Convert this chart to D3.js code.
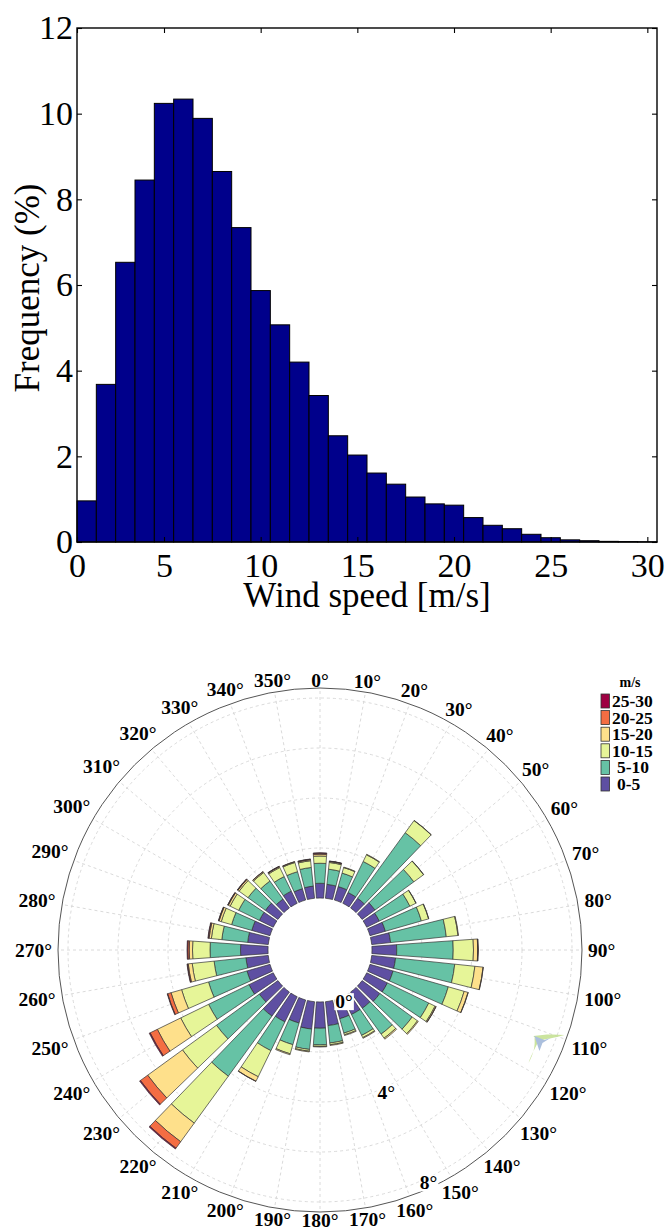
<!DOCTYPE html>
<html>
<head>
<meta charset="utf-8">
<script src="https://cdn.jsdelivr.net/npm/d3@7"></script>
<style>
  body { margin: 0; background: #fff; }
  svg { display: block; }
</style>
</head>
<body>
<svg id="chart" width="667" height="1230"></svg>
<script>
// ---------------- Histogram data: frequency (%) per 1 m/s bin (bin centres) ----------------
const binCenters = [1, 2, 3, 4, 5, 6, 7, 8, 9, 10, 11, 12, 13, 14, 15, 16, 17, 18, 19, 20,
                    21, 22, 23, 24, 25, 26, 27, 28, 29, 30];
const speedFreq = [0.96, 3.68, 6.53, 8.45, 10.24, 10.34, 9.89, 8.65, 7.34, 5.87,
                   5.07, 4.20, 3.42, 2.48, 2.03, 1.61, 1.35, 1.05, 0.89, 0.86,
                   0.57, 0.39, 0.31, 0.18, 0.10, 0.05, 0.03, 0.015, 0.01, 0.005];
const xTickValues = [0.5, 5, 10, 15, 20, 25, 30];
const xTickLabels = ["0", "5", "10", "15", "20", "25", "30"];
const yTicks = [0, 2, 4, 6, 8, 10, 12];

// ---------------- Wind rose data: frequency (%) per direction and speed class ----------------
const directions = [0, 10, 20, 30, 40, 50, 60, 70, 80, 90, 100, 110, 120, 130, 140, 150, 160, 170,
                    180, 190, 200, 210, 220, 230, 240, 250, 260, 270, 280, 290, 300, 310, 320, 330, 340, 350];
const speedClasses = ["0-5", "5-10", "10-15", "15-20", "20-25", "25-30"];
const rose0to5   = [0.59, 0.56, 0.56, 0.48, 0.48, 0.64, 0.56, 0.64, 0.76, 0.99, 0.96, 0.96, 0.92, 0.88, 0.80, 0.79, 0.78, 0.96,
                    1.05, 1.10, 0.96, 1.12, 1.19, 0.92, 1.08, 0.96, 0.90, 1.10, 0.83, 0.76, 0.62, 0.62, 0.44, 0.54, 0.47, 0.49];
const rose5to10  = [0.80, 0.61, 0.56, 1.38, 3.24, 1.92, 1.36, 1.50, 2.24, 2.26, 2.38, 2.30, 1.84, 1.60, 1.28, 0.93, 0.60, 0.70,
                    0.67, 0.82, 0.90, 1.28, 2.97, 2.12, 1.80, 1.60, 1.28, 1.22, 1.04, 0.84, 0.92, 0.86, 0.89, 0.65, 0.71, 0.75];
const rose10to15 = [0.29, 0.27, 0.23, 0.30, 0.60, 0.48, 0.27, 0.30, 0.47, 0.81, 0.81, 0.66, 0.28, 0.26, 0.20, 0.10, 0.07, 0.07,
                    0.06, 0.07, 0.38, 1.16, 2.32, 1.68, 1.24, 1.12, 0.88, 0.70, 0.42, 0.43, 0.38, 0.44, 0.42, 0.40, 0.38, 0.27];
const rose15to20 = [0.07, 0.04, 0.02, 0.02, 0.01, 0.01, 0.01, 0.01, 0.02, 0.17, 0.33, 0.16, 0.04, 0.04, 0.05, 0.03, 0.03, 0.03,
                    0.02, 0.03, 0.04, 0.20, 0.92, 1.72, 1.04, 0.44, 0.16, 0.13, 0.09, 0.09, 0.08, 0.06, 0.04, 0.04, 0.03, 0.04];
const rose20to25 = [0.04, 0.01, 0.00, 0.00, 0.00, 0.00, 0.00, 0.00, 0.00, 0.01, 0.01, 0.01, 0.01, 0.00, 0.00, 0.00, 0.00, 0.00,
                    0.00, 0.00, 0.00, 0.01, 0.32, 0.36, 0.32, 0.14, 0.03, 0.06, 0.03, 0.02, 0.02, 0.02, 0.01, 0.01, 0.01, 0.02];
const rose25to30 = [0.02, 0.01, 0.00, 0.00, 0.00, 0.00, 0.00, 0.00, 0.00, 0.01, 0.00, 0.00, 0.00, 0.00, 0.00, 0.00, 0.00, 0.00,
                    0.00, 0.00, 0.00, 0.00, 0.04, 0.04, 0.04, 0.02, 0.02, 0.03, 0.02, 0.01, 0.01, 0.01, 0.00, 0.01, 0.00, 0.01];
const roseSeries = [rose0to5, rose5to10, rose10to15, rose15to20, rose20to25, rose25to30];
const classColors = ["#5e4fa2", "#66c2a5", "#e6f598", "#fee08b", "#f46d43", "#9e0142"];
const angleTicks = directions;
const radialGrid = [2, 4, 6, 8];
const radialLabels = [0, 4, 8];

const serif = "'Liberation Serif', 'Times New Roman', Times, serif";
const svg = d3.select("#chart");

// =============================== Histogram ===============================
const hist = { left: 77, right: 657, top: 28, bottom: 542 };
const x = d3.scaleLinear().domain([0.5, 30.5]).range([hist.left, hist.right]);
const y = d3.scaleLinear().domain([0, 12]).range([hist.bottom, hist.top]);
const gh = svg.append("g");

gh.selectAll("rect.bar")
  .data(binCenters.map((c, i) => ({ c, v: speedFreq[i] })))
  .join("rect")
  .attr("class", "bar")
  .attr("x", d => x(d.c - 0.5))
  .attr("width", d => x(d.c + 0.5) - x(d.c - 0.5))
  .attr("y", d => y(d.v))
  .attr("height", d => y(0) - y(d.v))
  .attr("fill", "#00008b")
  .attr("stroke", "#000")
  .attr("stroke-width", 1);

function styleAxis(g, size) {
  g.select(".domain").remove();
  g.attr("font-family", serif).attr("font-size", size);
  g.selectAll("line").attr("stroke", "#000").attr("stroke-width", 1.1);
  g.selectAll("text").attr("fill", "#000");
}
const xLabel = d => xTickLabels[xTickValues.indexOf(d)];

gh.append("g")
  .attr("transform", `translate(0,${hist.bottom})`)
  .call(d3.axisBottom(x).tickValues(xTickValues).tickFormat(xLabel)
        .tickSizeInner(-5).tickSizeOuter(0).tickPadding(11))
  .call(g => styleAxis(g, 34));
gh.append("g")
  .attr("transform", `translate(0,${hist.top})`)
  .call(d3.axisTop(x).tickValues(xTickValues).tickSizeInner(-5).tickSizeOuter(0).tickFormat(""))
  .call(g => styleAxis(g, 34));
gh.append("g")
  .attr("transform", `translate(${hist.left},0)`)
  .call(d3.axisLeft(y).tickValues(yTicks).tickSizeInner(-5).tickSizeOuter(0).tickPadding(4))
  .call(g => styleAxis(g, 34));
gh.append("g")
  .attr("transform", `translate(${hist.right},0)`)
  .call(d3.axisRight(y).tickValues(yTicks).tickSizeInner(-5).tickSizeOuter(0).tickFormat(""))
  .call(g => styleAxis(g, 34));

gh.append("rect")
  .attr("x", hist.left).attr("y", hist.top)
  .attr("width", hist.right - hist.left).attr("height", hist.bottom - hist.top)
  .attr("fill", "none").attr("stroke", "#000").attr("stroke-width", 1.4);

gh.append("text")
  .attr("transform", `translate(39,${(hist.top + hist.bottom) / 2 + 3}) rotate(-90)`)
  .attr("text-anchor", "middle")
  .attr("font-family", serif).attr("font-size", 35)
  .text("Frequency (%)");
gh.append("text")
  .attr("x", (hist.left + hist.right) / 2).attr("y", 607)
  .attr("text-anchor", "middle")
  .attr("font-family", serif).attr("font-size", 35)
  .text("Wind speed [m/s]");

// =============================== Wind rose ===============================
const cx = 320, cy = 950, holeR = 52, outerR = 262;
const r = d3.scaleLinear().domain([0, 8.4]).range([holeR, outerR]);
const rad = deg => deg * Math.PI / 180;
const gr = svg.append("g").attr("transform", `translate(${cx},${cy})`);

// dashed grid: circles and spokes
gr.selectAll("circle.grid").data(radialGrid).join("circle")
  .attr("class", "grid")
  .attr("r", d => r(d))
  .attr("fill", "none").attr("stroke", "#d0d0d0").attr("stroke-width", 0.8)
  .attr("stroke-dasharray", "3,3");
gr.selectAll("line.spoke").data(angleTicks).join("line")
  .attr("class", "spoke")
  .attr("x1", d => holeR * Math.sin(rad(d))).attr("y1", d => -holeR * Math.cos(rad(d)))
  .attr("x2", d => outerR * Math.sin(rad(d))).attr("y2", d => -outerR * Math.cos(rad(d)))
  .attr("stroke", "#d0d0d0").attr("stroke-width", 0.8).attr("stroke-dasharray", "3,3");

// outer frame
gr.append("circle").attr("r", outerR)
  .attr("fill", "none").attr("stroke", "#555").attr("stroke-width", 1);

// stacked bars
const roseRows = directions.map((dir, i) => {
  const row = { dir };
  speedClasses.forEach((k, j) => { row[k] = roseSeries[j][i]; });
  return row;
});
const stacked = d3.stack().keys(speedClasses)(roseRows);
const arc = d3.arc();
const halfWidth = rad(4);
stacked.forEach((layer, j) => {
  gr.append("g").selectAll("path")
    .data(layer.filter(d => d[1] - d[0] > 0))
    .join("path")
    .attr("d", d => arc({
      innerRadius: r(d[0]), outerRadius: r(d[1]),
      startAngle: rad(d.data.dir) - halfWidth, endAngle: rad(d.data.dir) + halfWidth
    }))
    .attr("fill", classColors[j])
    .attr("stroke", "#333").attr("stroke-width", 0.7);
});

// angular tick labels
const angleLabels = gr.append("g")
  .attr("font-family", serif).attr("font-size", 19.5).attr("font-weight", "bold");
angleLabels.selectAll("text").data(angleTicks).join("text")
  .attr("text-anchor", "middle").attr("dominant-baseline", "central")
  .text(d => d + "°")
  .each(function (d) {
    const w = this.getComputedTextLength();
    const s = Math.abs(Math.sin(rad(d))), c = Math.abs(Math.cos(rad(d)));
    const rr = 264 + s * (w / 2 + 4) + c * 6;
    d3.select(this).attr("x", rr * Math.sin(rad(d))).attr("y", -rr * Math.cos(rad(d)));
  });

// radial labels with white boxes
const rLabelAngle = 155;
const rl = gr.append("g").attr("font-family", serif).attr("font-size", 19.5).attr("font-weight", "bold");
radialLabels.forEach(v => {
  const rr = r(v) + 5;
  const px = rr * Math.sin(rad(rLabelAngle)), py = -rr * Math.cos(rad(rLabelAngle));
  const t = rl.append("text")
    .attr("x", px).attr("y", py)
    .attr("text-anchor", "middle").attr("dominant-baseline", "central")
    .text(v + "°");
  const bb = t.node().getBBox();
  rl.insert("rect", () => t.node())
    .attr("x", bb.x - 1).attr("y", bb.y + 2)
    .attr("width", bb.width + 2).attr("height", bb.height - 4)
    .attr("fill", "#fff");
});

// small stray glyph near the 110° label
const glyphDir = 113, glyphR = 246;
const glyph = gr.append("g")
  .attr("transform", `translate(${glyphR * Math.sin(rad(glyphDir))},${-glyphR * Math.cos(rad(glyphDir))})`)
  .attr("opacity", 0.85);
glyph.append("path")
  .attr("d", "M-13,-10 C-3,-12 8,-12 18,-11 C8,-8 -2,-7 -9,-5 Z")
  .attr("fill", "#c2e08e");
glyph.append("path")
  .attr("d", "M-12,-8 C-11,0 -13,8 -18,17 C-15,8 -10,0 -8,-5 Z")
  .attr("fill", "#c2e08e");
glyph.append("path")
  .attr("d", "M-12,-10 L-2,-6 L4,-8 L-4,-3 L-7,5 Z")
  .attr("fill", "#9db4d8");

// legend
const lg = svg.append("g").attr("font-family", serif);
lg.append("text")
  .attr("x", 630).attr("y", 687)
  .attr("text-anchor", "middle")
  .attr("font-size", 14).attr("font-weight", "bold")
  .text("m/s");
const legendItems = speedClasses.map((k, j) => ({ k, color: classColors[j] })).reverse();
legendItems.forEach((d, i) => {
  const yc = 701 + i * 16.6;
  lg.append("rect")
    .attr("x", 601).attr("y", yc - 7).attr("width", 8.5).attr("height", 14)
    .attr("fill", d.color).attr("stroke", "#333").attr("stroke-width", 0.8);
  lg.append("text")
    .attr("x", d.k.length < 5 ? 617 : 612).attr("y", yc)
    .attr("dominant-baseline", "central")
    .attr("font-size", 17.5).attr("font-weight", "bold")
    .text(d.k);
});
</script>
</body>
</html>
